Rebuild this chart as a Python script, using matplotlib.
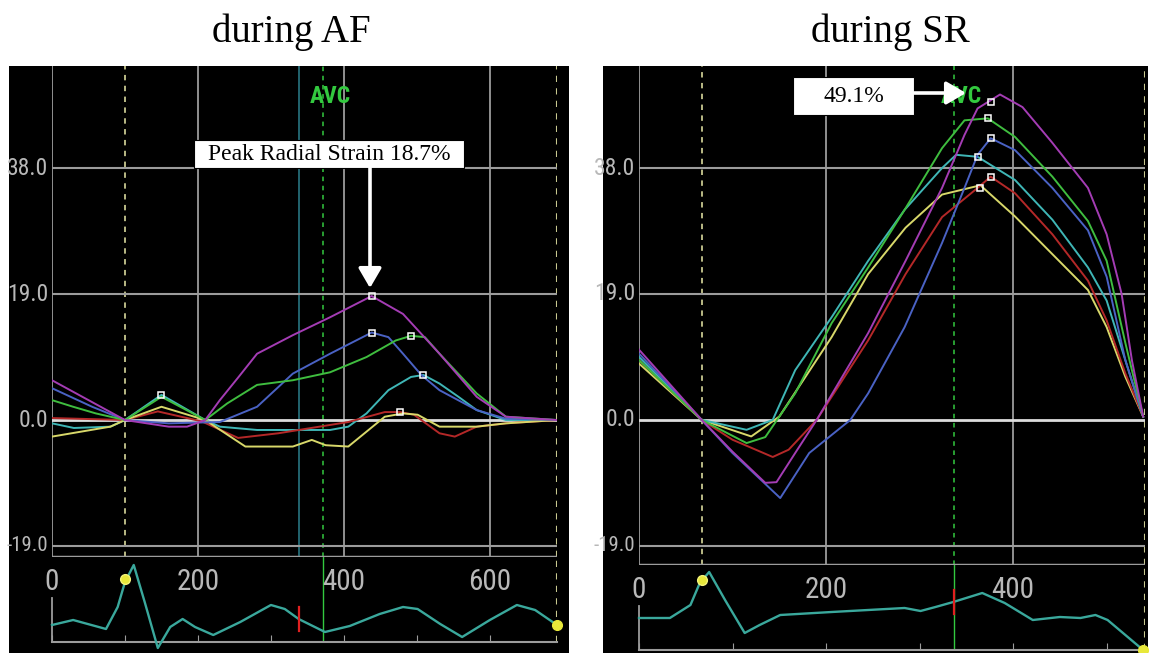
import matplotlib
matplotlib.use('Agg')
import matplotlib.pyplot as plt
from matplotlib import font_manager as fm
from matplotlib.patches import Rectangle, FancyArrowPatch
import matplotlib.transforms as mtransforms

# ---------------- data ----------------
titles = ["during AF", "during SR"]
ytick_vals = [38.0, 19.0, 0.0, -19.0]
ytick_labels = ["38.0", "19.0", "0.0", "-19.0"]
af_xticks = [0, 200, 400, 600]
sr_xticks = [0, 200, 400]

# AF strain curves (time ms, radial strain %)
af_purple_t = [0, 100, 160, 185, 210, 230, 255, 281, 330, 381, 438, 481, 531, 582, 622, 692]
af_purple_s = [6.0, 0, -1, -1, 0, 3, 6.4, 10, 12.8, 15.5, 18.7, 16, 10, 3.5, 0.5, 0]
af_blue_t = [0, 55, 100, 160, 230, 281, 330, 381, 431, 438, 461, 481, 506, 531, 582, 622, 692]
af_blue_s = [4.8, 2.0, 0, -0.5, -0.3, 2, 7, 10, 12.8, 13.2, 12.5, 10, 6.8, 4.5, 1.5, 0.2, 0]
af_green_t = [0, 29, 60, 100, 150, 210, 240, 281, 330, 381, 431, 471, 492, 511, 531, 582, 622, 692]
af_green_s = [3.0, 2.0, 1.0, 0, 3.5, 0, 2.5, 5.3, 6, 7.2, 9.5, 12, 12.7, 12.5, 10, 4, 0.5, 0]
af_teal_t = [0, 30, 80, 100, 150, 210, 230, 281, 381, 406, 431, 461, 492, 509, 531, 557, 582, 622, 692]
af_teal_s = [-0.5, -1.2, -1.0, 0, 3.8, 0, -1, -1.5, -1.5, -1, 1, 4.5, 6.5, 6.8, 5.5, 3.5, 1.5, 0, 0]
af_red_t = [0, 100, 145, 205, 255, 310, 406, 456, 477, 496, 531, 552, 582, 622, 692]
af_red_s = [0.3, 0, 1.3, -0.2, -2.7, -2, -0.3, 1.2, 1.2, 0.8, -2, -2.5, -1, -0.5, 0]
af_yellow_t = [0, 80, 100, 150, 210, 265, 330, 356, 375, 406, 456, 481, 501, 531, 582, 622, 692]
af_yellow_s = [-2.5, -1, 0, 2, 0, -4, -4, -3, -3.8, -4, 0.5, 1, 0.8, -1, -1, -0.5, 0]
af_peak_t = [438, 438, 492, 509, 477, 150]
af_peak_s = [18.7, 13.2, 12.7, 6.8, 1.2, 3.8]

# SR strain curves
sr_purple_t = [0, 67, 100, 135, 147, 167, 190, 245, 285, 324, 348, 362, 386, 410, 442, 480, 500, 516, 527, 539]
sr_purple_s = [10.6, 0, -4.8, -9.5, -9.4, -5, 0, 13.1, 24, 35, 43, 47, 49.1, 47.2, 41.8, 35, 28, 19, 9, 0.5]
sr_green_t = [0, 67, 115, 135, 167, 206, 245, 284, 324, 348, 373, 402, 442, 480, 500, 520, 539]
sr_green_s = [9, 0, -3.5, -2.6, 4, 14.6, 23, 31.7, 41, 45.2, 45.5, 42.7, 36.7, 30, 24, 11.6, 0.5]
sr_blue_t = [0, 67, 100, 151, 182, 226, 245, 284, 324, 348, 362, 376, 402, 442, 480, 500, 520, 539]
sr_blue_s = [10, 0, -5, -11.8, -5, 0, 4, 14, 26.7, 35, 40, 42.5, 40.7, 35, 28.6, 21.6, 9, 0.5]
sr_teal_t = [0, 67, 115, 143, 167, 206, 245, 284, 324, 339, 362, 402, 442, 480, 500, 520, 539]
sr_teal_s = [9.5, 0, -1.5, 0, 7.5, 15.5, 24, 31.7, 38, 40, 39.7, 36.2, 30.2, 23, 18, 9, 0.5]
sr_red_t = [0, 67, 100, 143, 160, 190, 245, 285, 324, 362, 376, 402, 442, 480, 500, 520, 539]
sr_red_s = [9, 0, -3, -5.6, -4.5, 0, 12, 22, 30.6, 35, 36.7, 34.2, 28, 21, 15, 7, 0.5]
sr_yellow_t = [0, 67, 120, 150, 206, 245, 285, 324, 365, 402, 442, 480, 500, 520, 539]
sr_yellow_s = [8.5, 0, -2.5, 0.5, 12.5, 22, 29, 34, 35.4, 30.7, 25, 19.6, 14, 6.5, 0.5]
sr_peak_t = [376, 373, 376, 362, 376, 365]
sr_peak_s = [48.0, 45.5, 42.5, 39.7, 36.7, 35.0]

# ECG traces (time ms, arbitrary amplitude)
af_ecg_t = [0, 29, 74, 90, 100, 112, 127, 145, 162, 179, 196, 221, 258, 300, 319, 338, 374, 408, 449, 481, 501, 532, 562, 600, 637, 662, 692]
af_ecg_v = [17, 22, 13, 35, 60, 77, 40, -6, 15, 23, 15, 7, 20, 37, 33, 23, 10, 16, 28, 35, 33, 18, 5, 22, 37, 32, 17]
sr_ecg_t = [0, 33, 55, 65, 75, 92, 113, 129, 151, 206, 245, 284, 301, 317, 336, 367, 391, 421, 450, 472, 488, 501, 520, 539]
sr_ecg_v = [32, 32, 45, 67, 78, 50, 17, 25, 35, 38, 40, 42, 39, 43, 48, 57, 47, 30, 33, 32, 35, 30, 15, 0]

# event markers (ms)
af_events = {"onset": 100, "end": 692, "avc": 371, "marker": 338}
sr_events = {"onset": 67, "end": 541, "avc": 337, "marker": 337}

# ---------------- style ----------------
W, H = 1150, 653
fig = plt.figure(figsize=(W / 100, H / 100), dpi=100)
fig.patch.set_facecolor('white')


def pick_font(cands):
    for c in cands:
        try:
            fm.findfont(fm.FontProperties(family=c), fallback_to_default=False)
            return c
        except Exception:
            pass
    return 'DejaVu Sans'


NARROW = pick_font(['Liberation Sans Narrow', 'DejaVu Sans Condensed', 'Roboto Condensed', 'Open Sans Condensed'])
SERIF = pick_font(['Liberation Serif', 'DejaVu Serif'])

GRID = '#9c9c9c'
LBL = '#b8b8b8'
DASHY = '#c8c890'
AVCG = '#33c93f'
C_PURPLE = '#a43cb4'
C_BLUE = '#4a62c4'
C_GREEN = '#3fbd3f'
C_TEAL = '#3fb6b6'
C_RED = '#b42828'
C_YELLOW = '#d8d86a'
ECG_C = '#3aa89c'


def rect(x0, y0, x1, y1):
    return [x0 / W, 1 - y1 / H, (x1 - x0) / W, (y1 - y0) / H]


def clean(ax):
    ax.set_xticks([])
    ax.set_yticks([])
    for s in ax.spines.values():
        s.set_visible(False)


def panel(bg, sbox, ebox, xmax, ybot, ytop, grid_x, ev, curves, peaks, ecg, xticks, ecg_top, ecg_bot, title, title_x):
    axbg = fig.add_axes(rect(*bg))
    axbg.set_facecolor('black')
    clean(axbg)
    axbg.set_zorder(0)

    ax = fig.add_axes(rect(*sbox))
    ax.patch.set_alpha(0)
    ax.set_zorder(1)
    ax.set_xlim(0, xmax)
    ax.set_ylim(ybot, ytop)
    clean(ax)
    ytrans = mtransforms.blended_transform_factory(ax.transAxes, ax.transData)
    for v, lab in zip(ytick_vals, ytick_labels):
        fs = 15 if lab.startswith('-') else 17
        ax.text(-0.008, v, lab, transform=ytrans, ha='right', va='center', color=LBL,
                fontsize=fs, fontfamily=NARROW, zorder=5)

    # grid
    for gx in grid_x:
        ax.axvline(gx, color=GRID, lw=1.3, zorder=1)
    ax.axvline(0, color=GRID, lw=1.3, zorder=1)
    ax.axvline(ev["onset"], color=DASHY, lw=1.3, ls=(0, (3, 3)), zorder=1)
    ax.axvline(ev["end"], color=DASHY, lw=1.5, ls=(0, (3, 3)), zorder=1)
    ax.axvline(ev["avc"], color=AVCG, lw=1.1, ls=(0, (3, 3)), zorder=1)
    if ev["marker"] != ev["avc"]:
        ax.axvline(ev["marker"], color='#2c7f8c', lw=1.1, zorder=1)
    for gy in [38.0, 19.0, -19.0]:
        ax.axhline(gy, color=GRID, lw=1.5, zorder=1)
    ax.axhline(ybot, color=GRID, lw=2.5, zorder=1)
    ax.axhline(0.0, color='#dcdcdc', lw=2.0, zorder=1)
    ax.text(ev["avc"] + (xmax * 0.015), ytop - 4.6, "AVC", color=AVCG, fontsize=17,
            fontfamily=NARROW, fontweight='bold', ha='center', va='center', zorder=5)

    for (t, s, c) in curves:
        ax.plot(t, s, color=c, lw=1.4, zorder=3, solid_joinstyle='round')
    ax.plot(peaks[0], peaks[1], ls='none', marker='s', ms=5, mfc='none', mec='white', mew=1.1, zorder=4)

    # ECG
    axe = fig.add_axes(rect(*ebox))
    axe.patch.set_alpha(0)
    axe.set_zorder(1)
    axe.set_xlim(0, xmax)
    axe.set_ylim(ecg_bot, ecg_top)
    for s in ['top', 'right']:
        axe.spines[s].set_visible(False)
    axe.spines['bottom'].set_color(GRID)
    axe.spines['bottom'].set_linewidth(1.5)
    axe.spines['left'].set_color(GRID)
    axe.spines['left'].set_linewidth(1.3)
    axe.spines['left'].set_bounds(ecg_bot, ecg_top * 0.52)
    axe.set_xticks(list(range(0, int(xmax) + 1, 100)))
    axe.tick_params(axis='x', direction='in', length=5, color=GRID, labelbottom=False)
    axe.set_yticks([])
    axe.axvline(ev["avc"], color=AVCG, lw=1.0, zorder=1)
    axe.axvline(ev["end"], color=DASHY, lw=1.5, ls=(0, (3, 3)), zorder=1)
    axe.plot(ecg[0], ecg[1], color=ECG_C, lw=1.7, zorder=3, clip_on=False)
    # event markers on ECG
    i_on = ecg[0].index(min(ecg[0], key=lambda v: abs(v - ev["onset"])))
    axe.plot([ev["onset"]], [ecg[1][i_on] + 3], marker='o', ms=7, color='#e8e83a', mec='#f4f47a', zorder=4, clip_on=False)
    axe.plot([ecg[0][-1]], [ecg[1][-1]], marker='o', ms=7, color='#e8e83a', zorder=4, clip_on=False)
    i_m = ecg[0].index(min(ecg[0], key=lambda v: abs(v - ev["marker"])))
    yv = ecg[1][i_m]
    axe.plot([ev["marker"], ev["marker"]], [yv - 12, yv + 12], color='#e02020', lw=1.6, zorder=4)
    trans = mtransforms.blended_transform_factory(axe.transData, axe.transAxes)
    for xt in xticks:
        axe.text(xt, 0.70, str(xt), transform=trans, ha='center', va='center', color=LBL,
                 fontsize=21, fontfamily=NARROW)

    fig.text(title_x / W, 1 - 42 / H, title, ha='center', va='baseline', fontsize=28,
             fontfamily=SERIF, color='black')
    return ax, axe


ax1, axe1 = panel((9, 66, 569, 653), (52, 66, 557, 557), (52, 557, 557, 642), 692, -20.66, 53.4,
                  af_xticks[1:], af_events,
                  [(af_teal_t, af_teal_s, C_TEAL), (af_red_t, af_red_s, C_RED), (af_yellow_t, af_yellow_s, C_YELLOW),
                   (af_blue_t, af_blue_s, C_BLUE), (af_green_t, af_green_s, C_GREEN), (af_purple_t, af_purple_s, C_PURPLE)],
                  (af_peak_t, af_peak_s), (af_ecg_t, af_ecg_v), af_xticks, 85, 0, titles[0], 291)

ax2, axe2 = panel((603, 66, 1148, 653), (639, 66, 1145, 565), (639, 565, 1145, 650), 541, -21.9, 53.4,
                  sr_xticks[1:], sr_events,
                  [(sr_yellow_t, sr_yellow_s, C_YELLOW), (sr_red_t, sr_red_s, C_RED), (sr_teal_t, sr_teal_s, C_TEAL),
                   (sr_blue_t, sr_blue_s, C_BLUE), (sr_green_t, sr_green_s, C_GREEN), (sr_purple_t, sr_purple_s, C_PURPLE)],
                  (sr_peak_t, sr_peak_s), (sr_ecg_t, sr_ecg_v), sr_xticks, 85, 0, titles[1], 890)


# annotation boxes and arrows (figure pixel layout)
def fig_box(x0, y0, x1, y1, text):
    r = Rectangle((x0 / W, 1 - y1 / H), (x1 - x0) / W, (y1 - y0) / H, transform=fig.transFigure,
                  facecolor='white', edgecolor='black', lw=0.8, zorder=10)
    fig.add_artist(r)
    fig.text((x0 + x1) / 2 / W, 1 - (y0 + y1) / 2 / H, text, ha='center', va='center', fontsize=17,
             fontfamily=SERIF, color='black', zorder=11)


def fig_arrow(x0, y0, x1, y1):
    a = FancyArrowPatch((x0 / W, 1 - y0 / H), (x1 / W, 1 - y1 / H), transform=fig.transFigure,
                        arrowstyle='-|>,head_length=6,head_width=3.5', color='white', lw=2.6,
                        mutation_scale=2, zorder=10, shrinkA=0, shrinkB=0)
    fig.add_artist(a)


fig_box(194, 140, 464, 168, "Peak Radial Strain 18.7%")
fig_arrow(370, 168, 370, 288)
fig_box(793, 77, 914, 115, "49.1%")
fig_arrow(914, 93, 966, 93)

fig.savefig('out.png', dpi=100, facecolor='white')
